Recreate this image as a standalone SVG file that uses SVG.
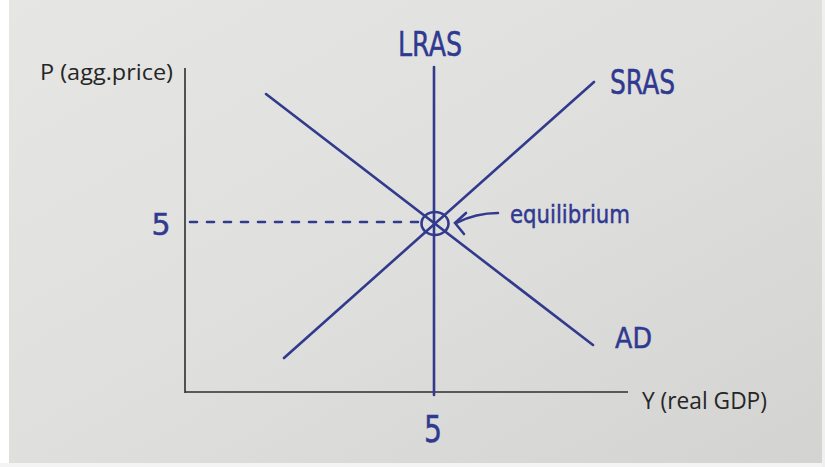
<svg xmlns="http://www.w3.org/2000/svg" width="825" height="467" viewBox="0 0 825 467">
  <defs>
    <linearGradient id="paper" x1="0" y1="0" x2="1" y2="1">
      <stop offset="0" stop-color="#e6e6e4"/>
      <stop offset="0.5" stop-color="#dfdfdd"/>
      <stop offset="1" stop-color="#d3d3d1"/>
    </linearGradient>
  </defs>
  <style>
    .ink { stroke: #313a8c; stroke-width: 2.6; stroke-linecap: round; fill: none; }
    .axis { stroke: #2e2e2e; stroke-width: 1.6; fill: none; }
    .hand { fill: #2f3990; stroke: #2f3990; stroke-width: 0.5; font-family: "DejaVu Sans", "Liberation Sans", sans-serif; }
    .print { fill: #262626; font-family: "Open Sans", "Liberation Sans", sans-serif; }
  </style>

  <rect x="0" y="0" width="825" height="467" fill="url(#paper)"/>
  <rect x="0" y="0" width="9" height="467" fill="#ffffff"/>
  <rect x="0" y="463" width="825" height="4" fill="#f4f4f4"/>
  <rect x="822" y="0" width="3" height="467" fill="#f0f0f0"/>

  <g id="axes">
    <line class="axis" x1="185" y1="68" x2="185" y2="393"/>
    <line class="axis" x1="185" y1="392" x2="628" y2="392"/>
  </g>

  <g id="connectors">
    <line id="lras-line" class="ink" x1="434" y1="67" x2="434" y2="395"/>
    <line id="sras-line" class="ink" x1="284" y1="358" x2="594" y2="82"/>
    <line id="ad-line" class="ink" x1="266" y1="94" x2="593" y2="345"/>
    <line id="price-guide" class="ink" x1="190" y1="222" x2="424" y2="222" stroke-width="2" stroke-dasharray="7 10" stroke-linecap="butt"/>
    <path id="eq-arrow" class="ink" d="M498 213 Q476 213 456 223" stroke-width="2.4"/>
    <path id="eq-arrowhead" class="ink" d="M466 213 L455 223 L464 234" stroke-width="2.4"/>
  </g>

  <g id="equilibrium-point">
    <ellipse class="ink" cx="435" cy="223.5" rx="13.5" ry="11.5" stroke-width="2.6"/>
  </g>

  <g id="label-lras">
    <text class="hand" x="398" y="56" font-size="34" textLength="64" lengthAdjust="spacingAndGlyphs">LRAS</text>
  </g>
  <g id="label-sras">
    <text class="hand" x="610" y="94" font-size="34" textLength="65" lengthAdjust="spacingAndGlyphs">SRAS</text>
  </g>
  <g id="label-ad">
    <text class="hand" x="615" y="348" font-size="28" textLength="37" lengthAdjust="spacingAndGlyphs">AD</text>
  </g>
  <g id="label-equilibrium">
    <text class="hand" x="510" y="223" font-size="25" textLength="120" lengthAdjust="spacingAndGlyphs">equilibrium</text>
  </g>
  <g id="label-price-5">
    <text class="hand" x="161" y="235" font-size="30" text-anchor="middle">5</text>
  </g>
  <g id="label-gdp-5">
    <text class="hand" x="433" y="442" font-size="38" text-anchor="middle" textLength="18" lengthAdjust="spacingAndGlyphs">5</text>
  </g>
  <g id="label-y-axis">
    <text class="print" x="40" y="80" font-size="21" textLength="133" lengthAdjust="spacingAndGlyphs">P (agg.price)</text>
  </g>
  <g id="label-x-axis">
    <text class="print" x="642" y="409" font-size="23" textLength="125" lengthAdjust="spacingAndGlyphs">Y (real GDP)</text>
  </g>
</svg>
